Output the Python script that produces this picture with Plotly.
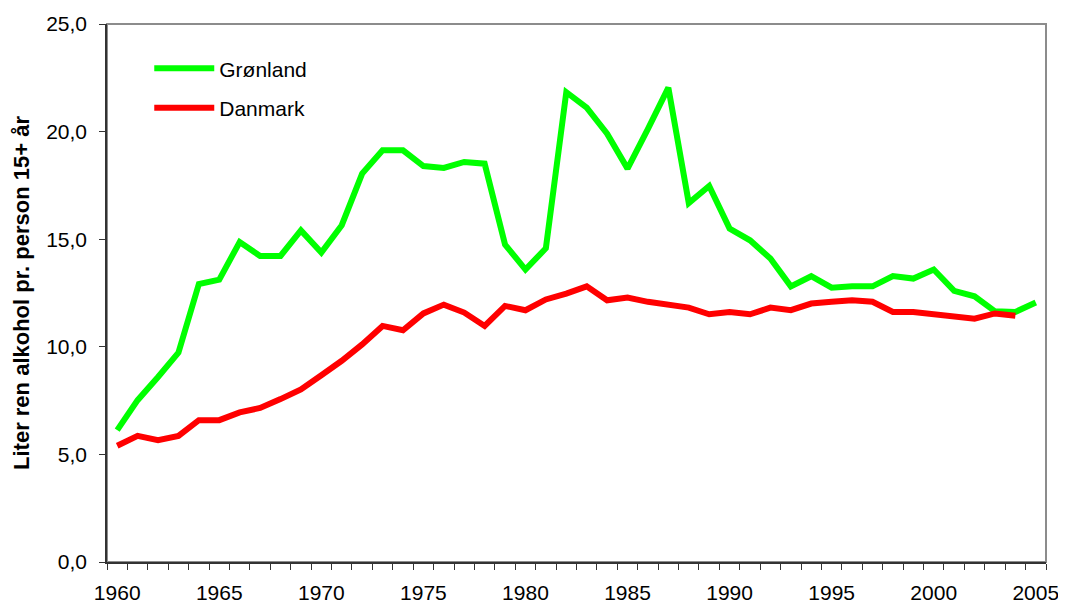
import plotly.graph_objects as go

years = list(range(1960, 2006))
gronland = [6.13, 7.52, 8.60, 9.73, 12.92, 13.12, 14.87, 14.22, 14.22, 15.41,
            14.38, 15.65, 18.05, 19.13, 19.13, 18.40, 18.31, 18.59, 18.51, 14.75,
            13.59, 14.58, 21.83, 21.11, 19.90, 18.28, 20.13, 22.04, 16.68, 17.47,
            15.49, 14.95, 14.10, 12.81, 13.28, 12.75, 12.81, 12.81, 13.29, 13.17,
            13.59, 12.60, 12.35, 11.65, 11.62, 12.06]
danmark_years = list(range(1960, 2005))
danmark = [5.40, 5.86, 5.66, 5.86, 6.59, 6.59, 6.95, 7.16, 7.57, 8.02,
           8.68, 9.35, 10.11, 10.97, 10.77, 11.55, 11.96, 11.59, 10.97, 11.90,
           11.70, 12.20, 12.47, 12.81, 12.16, 12.29, 12.09, 11.93, 11.82, 11.51,
           11.62, 11.51, 11.82, 11.70, 12.01, 12.09, 12.16, 12.09, 11.62, 11.62,
           11.51, 11.42, 11.31, 11.55, 11.44]
year_labels = list(range(1960, 2006, 5))
y_ticks = [0, 5, 10, 15, 20, 25]

FONT = "Liberation Sans, Arial, sans-serif"

fig = go.Figure()
fig.add_trace(go.Scatter(x=years, y=gronland, mode="lines", name="Grønland",
                         line=dict(color="#00FF00", width=6), legendgroup="g"))
fig.add_trace(go.Scatter(x=danmark_years, y=danmark, mode="lines", name="Danmark",
                         line=dict(color="#FF0000", width=6), legendgroup="d"))

fig.update_layout(
    width=1058, height=595,
    margin=dict(l=99, r=20, t=16, b=41),
    paper_bgcolor="white", plot_bgcolor="white",
    separators=",.",
    font=dict(family=FONT, size=21, color="black"),
    showlegend=True,
    legend=dict(x=0.045, y=0.955, xanchor="left", yanchor="top",
                bgcolor="rgba(0,0,0,0)", font=dict(size=21),
                tracegroupgap=9, itemwidth=60),
    shapes=[dict(type="rect", xref="paper", yref="paper", x0=0, y0=0, x1=1, y1=1,
                 line=dict(color="#8c8c8c", width=2), layer="below")],
)
fig.update_xaxes(
    range=[1959.5, 2005.5], tickmode="array", tickvals=year_labels,
    ticktext=[str(v) for v in year_labels], ticks="", showgrid=False, zeroline=False,
    showline=True, linecolor="#333333", linewidth=1.5, automargin=False,
    ticklabelstandoff=11,
    minor=dict(tick0=1959.5, dtick=1, ticks="outside", ticklen=6,
               tickcolor="#333333", showgrid=False),
    tickfont=dict(size=21),
)
fig.update_yaxes(
    range=[0, 25], tickmode="array", tickvals=y_ticks, tickformat=".1f",
    ticks="outside", ticklen=6, tickcolor="#333333", showgrid=False, zeroline=False,
    showline=True, linecolor="#333333", linewidth=1.5, automargin=False,
    ticklabelstandoff=8,
    title=dict(text="<b>Liter ren alkohol pr. person 15+ år</b>", font=dict(size=22), standoff=10),
    tickfont=dict(size=21),
)

fig.write_html("out.html")
